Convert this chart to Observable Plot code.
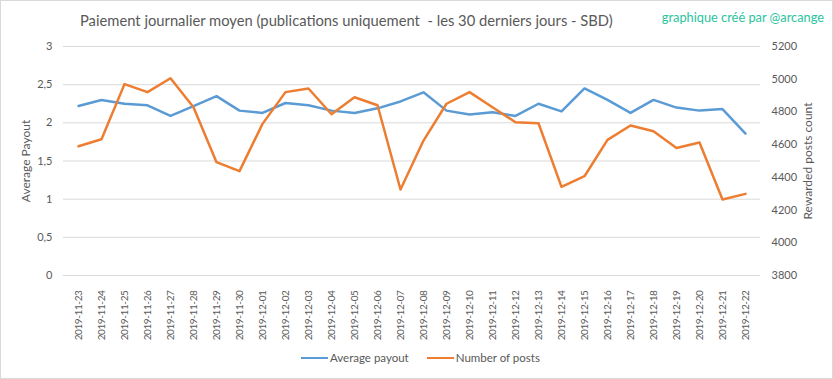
<!DOCTYPE html>
<html><head><meta charset="utf-8">
<script src="https://cdn.jsdelivr.net/npm/d3@7"></script>
<script src="https://cdn.jsdelivr.net/npm/@observablehq/plot@0.6"></script>
<style>
body{margin:0;background:#fff;font-family:Lato,sans-serif;}
#chart{position:relative;width:833px;height:379px;overflow:hidden;background:#fff;}
#frame{position:absolute;left:0;top:0;width:831px;height:377px;border:1px solid #d9d9d9;pointer-events:none;}
#title{position:absolute;left:80px;top:10px;font-size:14.75px;line-height:20px;color:#595959;white-space:pre;}
#mark{position:absolute;right:9px;top:8px;font-size:12.8px;line-height:18px;color:#2bc3a0;white-space:pre;}
.plot{position:absolute;left:0;top:36px;}
#legend{position:absolute;left:301px;top:348px;font-size:11.5px;line-height:20px;color:#595959;display:flex;align-items:center;white-space:pre;}
.sw{display:inline-block;width:27px;height:2.5px;margin-right:2px;}
</style></head>
<body>
<div id="chart">
  <div id="title">Paiement journalier moyen (publications uniquement  - les 30 derniers jours - SBD)</div>
  <div id="mark">graphique créé par @arcange</div>
  <div id="p1" class="plot"></div>
  <div id="p2" class="plot"></div>
  <div id="legend"><span class="sw" style="background:#5b9bd5"></span><span style="margin-right:18px">Average payout</span><span class="sw" style="background:#ed7d31"></span><span>Number of posts</span></div>
  <div id="frame"></div>
</div>
<script>
const dates = ["2019-11-23","2019-11-24","2019-11-25","2019-11-26","2019-11-27","2019-11-28","2019-11-29","2019-11-30","2019-12-01","2019-12-02","2019-12-03","2019-12-04","2019-12-05","2019-12-06","2019-12-07","2019-12-08","2019-12-09","2019-12-10","2019-12-11","2019-12-12","2019-12-13","2019-12-14","2019-12-15","2019-12-16","2019-12-17","2019-12-18","2019-12-19","2019-12-20","2019-12-21","2019-12-22"];
const avgPayout = [2.22,2.30,2.25,2.23,2.09,2.22,2.35,2.16,2.13,2.26,2.23,2.16,2.13,2.19,2.28,2.40,2.16,2.11,2.14,2.09,2.25,2.15,2.45,2.30,2.13,2.30,2.20,2.16,2.18,1.86];
const posts = [4590,4633,4970,4921,5006,4829,4493,4438,4727,4921,4943,4786,4890,4841,4326,4625,4850,4921,4829,4737,4731,4342,4407,4629,4717,4682,4580,4613,4265,4299];
const leftTicks = [0,0.5,1,1.5,2,2.5,3];
const rightTicks = [3800,4000,4200,4400,4600,4800,5000,5200];

const common = {
  width: 833, height: 305,
  marginLeft: 63, marginRight: 73, marginTop: 10, marginBottom: 66,
  style: {fontFamily: "Lato, sans-serif", fontSize: "11px", color: "#595959", background: "transparent", overflow: "visible"}
};

const p1 = Plot.plot({
  ...common,
  x: {type: "point", domain: dates, padding: 0.5},
  y: {domain: [0, 3]},
  marks: [
    Plot.gridY(leftTicks, {stroke: "#d9d9d9", strokeOpacity: 1}),
    Plot.axisY(leftTicks, {tickSize: 0, tickPadding: 11, tickFormat: d => String(d).replace(".", ","),
      label: "Average Payout", labelAnchor: "center", labelOffset: 42, labelArrow: false}),
    Plot.axisX({tickSize: 0, tickRotate: -90, tickPadding: 15, label: null, fontSize: 10}),
    Plot.lineY(avgPayout, {x: (d, i) => dates[i], y: d => d, stroke: "#5b9bd5", strokeWidth: 2.5})
  ]
});
document.getElementById("p1").append(p1);

const p2 = Plot.plot({
  ...common,
  x: {type: "point", domain: dates, padding: 0.5, axis: null},
  y: {domain: [3800, 5200]},
  marks: [
    Plot.axisY(rightTicks, {anchor: "right", tickSize: 0, tickPadding: 11, tickFormat: d => String(d),
      label: "Rewarded posts count", labelAnchor: "center", labelOffset: 51, labelArrow: false}),
    Plot.lineY(posts, {x: (d, i) => dates[i], y: d => d, stroke: "#ed7d31", strokeWidth: 2.5})
  ]
});
document.getElementById("p2").append(p2);

d3.select(p1).selectAll('[aria-label="x-axis tick label"] text').attr("letter-spacing", "-0.4");
d3.selectAll('[aria-label="y-axis label"]').attr("font-size", "12px");
</script>
</body></html>
